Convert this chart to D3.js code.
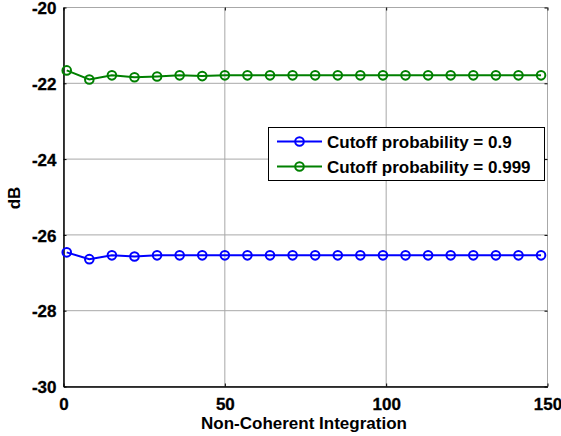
<!DOCTYPE html>
<html>
<head>
<meta charset="utf-8">
<script src="https://cdn.jsdelivr.net/npm/d3@7"></script>
<style>
  html, body { margin: 0; padding: 0; background: #fff; }
  svg { display: block; font-family: Arial, "Liberation Sans", sans-serif; font-weight: bold; }
  svg text { font-family: Arial, "Liberation Sans", sans-serif; font-weight: bold; fill: #000; }
</style>
</head>
<body>
<svg id="chart" width="561" height="436"></svg>
<script>
// Number of non-coherently integrated pulses
const integration = [1, 8, 15, 22, 29, 36, 43, 50, 57, 64, 71, 78, 85, 92, 99, 106, 113, 120, 127, 134, 141, 148];

// Threshold levels (dB) for the two cutoff probabilities
const cutoff090 = [-26.46, -26.64, -26.54, -26.57, -26.54, -26.54, -26.54, -26.54, -26.54, -26.54, -26.54,
                   -26.54, -26.54, -26.54, -26.54, -26.54, -26.54, -26.54, -26.54, -26.54, -26.54, -26.54];
const cutoff0999 = [-21.66, -21.90, -21.79, -21.84, -21.82, -21.79, -21.81, -21.79, -21.79, -21.79, -21.79,
                    -21.79, -21.79, -21.79, -21.79, -21.79, -21.79, -21.79, -21.79, -21.79, -21.79, -21.79];

const xTicks = [0, 50, 100, 150];
const yTicks = [-30, -28, -26, -24, -22, -20];

const seriesNames = ["Cutoff probability = 0.9", "Cutoff probability = 0.999"];
const seriesColors = ["#0000ff", "#008000"];
const seriesValues = [cutoff090, cutoff0999];

const svg = d3.select("#chart");
const plotL = 63.5, plotR = 547.5, plotT = 7.5, plotB = 386.5;

const x = d3.scaleLinear().domain([0, 150]).range([plotL, plotR]);
const y = d3.scaleLinear().domain([-30, -20]).range([plotB, plotT]);

// grid
const grid = svg.append("g").attr("stroke", "#a8a8a8").attr("stroke-width", 1);
xTicks.forEach(t => grid.append("line").attr("x1", x(t)).attr("x2", x(t)).attr("y1", plotT).attr("y2", plotB));
yTicks.forEach(t => grid.append("line").attr("x1", plotL).attr("x2", plotR).attr("y1", y(t)).attr("y2", y(t)));

// axes (left/bottom solid black, ticks inward); plain hyphen for negatives
const plain = d => String(d);
const xAxis = d3.axisBottom(x).tickValues(xTicks).tickFormat(plain).tickSizeInner(-3).tickSizeOuter(0).tickPadding(10);
const yAxis = d3.axisLeft(y).tickValues(yTicks).tickFormat(plain).tickSizeInner(-3).tickSizeOuter(0).tickPadding(7);

const gx = svg.append("g").attr("transform", `translate(0,${plotB})`).call(xAxis);
const gy = svg.append("g").attr("transform", `translate(${plotL},0)`).call(yAxis);
[gx, gy].forEach(g => {
  g.attr("font-family", null).attr("font-size", null);
  g.select(".domain").attr("stroke", "#000").attr("stroke-width", 1.5);
  g.selectAll(".tick line").attr("stroke", "#000");
  g.selectAll(".tick text")
    .style("font-size", "17px").style("font-weight", "700")
    .style("font-family", "'Liberation Sans', Arial, sans-serif")
    .attr("stroke", "#000").attr("stroke-width", 0.3);
});
gx.selectAll(".tick text").attr("dy", "0.78em");
gy.selectAll(".tick text").attr("dy", "0.36em");

// opposite-side ticks
const topAxis = d3.axisTop(x).tickValues(xTicks).tickSizeInner(-3).tickSizeOuter(0).tickFormat("");
const rightAxis = d3.axisRight(y).tickValues(yTicks).tickSizeInner(-3).tickSizeOuter(0).tickFormat("");
const gt = svg.append("g").attr("transform", `translate(0,${plotT})`).call(topAxis);
const gr = svg.append("g").attr("transform", `translate(${plotR},0)`).call(rightAxis);
[gt, gr].forEach(g => {
  g.select(".domain").remove();
  g.selectAll(".tick line").attr("stroke", "#000");
});

// series
const line = d3.line().x((d, i) => x(integration[i])).y(d => y(d));
seriesValues.forEach((vals, k) => {
  const g = svg.append("g");
  g.append("path").datum(vals).attr("d", line)
    .attr("fill", "none").attr("stroke", seriesColors[k]).attr("stroke-width", 2);
  g.selectAll("circle").data(vals).join("circle")
    .attr("cx", (d, i) => x(integration[i])).attr("cy", d => y(d)).attr("r", 4.3)
    .attr("fill", "none").attr("stroke", seriesColors[k]).attr("stroke-width", 2);
});

// axis titles
svg.append("text").attr("x", 304).attr("y", 429).attr("text-anchor", "middle")
  .style("font-size", "17px").text("Non-Coherent Integration");
svg.append("text").attr("transform", "translate(20,198) rotate(-90)").attr("text-anchor", "middle")
  .style("font-size", "17px").text("dB");

// legend
const lg = svg.append("g");
lg.append("rect").attr("x", 268.5).attr("y", 127.5).attr("width", 276).attr("height", 53)
  .attr("fill", "#fff").attr("stroke", "#000").attr("stroke-width", 1);
seriesNames.forEach((name, k) => {
  const cy = 141.5 + k * 25;
  lg.append("line").attr("x1", 277).attr("x2", 322).attr("y1", cy).attr("y2", cy)
    .attr("stroke", seriesColors[k]).attr("stroke-width", 2);
  lg.append("circle").attr("cx", 299.5).attr("cy", cy).attr("r", 4.3)
    .attr("fill", "none").attr("stroke", seriesColors[k]).attr("stroke-width", 2);
  lg.append("text").attr("x", 327).attr("y", cy).attr("dy", "0.36em")
    .style("font-size", "17px").text(name);
});
</script>
</body>
</html>
